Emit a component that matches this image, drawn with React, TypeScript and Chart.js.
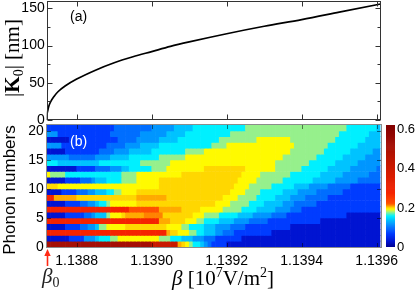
import React, { useEffect, useRef } from 'react';
import { Chart, registerables } from 'chart.js';

Chart.register(...registerables);

const SANS = '"Liberation Sans", Arial, Helvetica, sans-serif';
const SERIF = '"Liberation Serif", "Times New Roman", serif';

// ---------- panel (a): |K0| versus beta ----------
const kBeta = [1.13872, 1.138721, 1.138723, 1.138726, 1.13873, 1.13874, 1.13875, 1.13877, 1.1388, 1.13885, 1.1389, 1.13895, 1.139, 1.13905, 1.1391, 1.1392, 1.1393, 1.1394, 1.1395, 1.1396, 1.13961];
const kValues = [0, 8, 13, 19, 24, 32, 38, 46, 55, 67, 77, 85, 92, 99, 105, 116, 126, 135, 145, 155, 156];
const kTickValues = [0, 25, 50, 75, 100, 125, 150];

// ---------- shared beta axis ----------
const betaStart = 1.13872;
const betaEnd = 1.13961;
const betaStep = 0.00001;
const columnCount = 89;
const xTickValues = [1.1388, 1.139, 1.1392, 1.1394, 1.1396];

// ---------- panel (b): phonon-number distribution ----------
const phononTickValues = [0, 5, 10, 15, 20];
const levelCodes = ['d', 'b', 'm', 'l', 's', 'c', 'g', 'y', 'o', 'a', 'A', 'r', 'R', 'Q', 'K'];
const levelValues = [0.03, 0.07, 0.1, 0.12, 0.14, 0.16, 0.18, 0.195, 0.203, 0.21, 0.215, 0.225, 0.28, 0.42, 0.52];
// one string per phonon number (0 at bottom); each token = level code + end column
const phononRows = [
  'K28 Q35 a36 o37 y38 g39 c41 s42 l43 m44 b48 d89',
  'd6 b10 l13 s14 c17 g19 y30 g33 c36 s39 l42 m45 b52 d89',
  'R32 a33 o35 y38 g40 c42 s45 l47 m50 b60 d89',
  'd5 b9 m11 l13 s14 g16 y21 o32 y36 g38 c42 s45 l49 m53 b65 d89',
  'R30 a33 o37 y40 g42 c46 s50 l54 m59 b73 d89',
  'd5 b10 m12 l13 s16 g17 y20 o21 a26 A31 o39 y42 g46 c51 s55 l60 m64 b80 d89',
  'R22 r30 a36 o41 y47 g52 c56 s61 l65 m68 b89',
  'd5 b9 m11 l13 s14 c16 g17 y24 o45 y49 g54 c58 s63 l66 m72 b89',
  'R2 a8 o24 a32 o47 y51 g56 c61 s65 l69 m75 b89',
  'd4 b8 m11 l13 s16 c18 g20 y24 o49 y53 g57 c63 s67 l72 m79 b89',
  'o3 y30 o50 y54 g60 c66 s70 l75 m81 b89',
  'd5 b9 m12 l13 s16 c20 g24 y30 o51 y56 g63 c71 s77 l83 m89',
  'y1 g5 c20 g24 y36 o52 y57 g65 c73 s79 l86 m89',
  'd8 b13 m17 l20 s22 c28 g32 y42 o53 y61 g68 c75 s81 l88 m89',
  'c3 s14 c25 g33 y61 g70 c77 s83 l89',
  'l6 m13 l17 s22 c30 g37 y63 g72 c79 s85 l89',
  'd5 b14 m18 l22 s28 c37 g42 y65 g74 c81 s87 l89',
  'l4 b16 m21 l25 s30 c44 g48 y66 g75 c83 s89',
  'd6 b19 m24 l30 s35 c46 g56 y65 g77 c85 s89',
  'l3 b17 m25 l32 s37 c49 g78 c86 s89',
  'b18 m28 l34 s39 c53 g80 c88 s89',
];

// ---------- colour bar ----------
const colorbarTicks = [0, 0.2, 0.4, 0.6];
const colorbarMax = 0.625;
const cmapValues = [0, 0.03, 0.07, 0.1, 0.12, 0.14, 0.16, 0.18, 0.195, 0.203, 0.21, 0.215, 0.225, 0.28, 0.42, 0.52, 0.625];
const cmapColors = [
  [0, 0, 140], [0, 20, 210], [0, 60, 255], [0, 110, 255], [0, 150, 255], [0, 195, 255], [0, 240, 255],
  [150, 240, 140], [255, 250, 0], [255, 215, 0], [255, 170, 0], [255, 130, 0], [255, 80, 0],
  [245, 35, 0], [200, 25, 0], [165, 15, 5], [130, 0, 0],
];

function colorFor(v: number): string {
  for (let i = 0; i < cmapValues.length - 1; i++) {
    if (v <= cmapValues[i + 1] || i === cmapValues.length - 2) {
      const t = Math.max(0, Math.min(1, (v - cmapValues[i]) / (cmapValues[i + 1] - cmapValues[i])));
      const a = cmapColors[i], b = cmapColors[i + 1];
      const c = a.map((ai, k) => Math.round(ai + (b[k] - ai) * t));
      return `rgb(${c[0]},${c[1]},${c[2]})`;
    }
  }
  return 'rgb(0,0,0)';
}

function expandRow(code: string): number[] {
  const out: number[] = [];
  for (const tok of code.split(' ')) {
    const val = levelValues[levelCodes.indexOf(tok[0])];
    const end = parseInt(tok.slice(1), 10);
    while (out.length < end) out.push(val);
  }
  return out.slice(0, columnCount);
}

type Run = { t: string; font: string; dy?: number };
function drawRuns(ctx: CanvasRenderingContext2D, runs: Run[], x: number, y: number, align: 'left' | 'center') {
  let total = 0;
  for (const r of runs) { ctx.font = r.font; total += ctx.measureText(r.t).width; }
  let cx = align === 'center' ? x - total / 2 : x;
  ctx.textAlign = 'left';
  ctx.textBaseline = 'alphabetic';
  for (const r of runs) {
    ctx.font = r.font;
    ctx.fillText(r.t, cx, y + (r.dy || 0));
    cx += ctx.measureText(r.t).width;
  }
}

const topDecor = {
  id: 'topDecor',
  afterDraw(chart: any) {
    const { ctx, chartArea: a, scales } = chart;
    const xs = scales.x, ys = scales.y;
    const L = Math.round(a.left) + 0.5, R = Math.round(a.right) - 0.5;
    const T = Math.round(a.top) + 0.5, B = Math.round(a.bottom) - 0.5;
    ctx.save();
    ctx.strokeStyle = '#333';
    ctx.lineWidth = 1;
    ctx.strokeRect(L, T, R - L, B - T);
    ctx.beginPath();
    for (const v of kTickValues) {
      const py = Math.round(ys.getPixelForValue(v)) + 0.5;
      const len = v % 50 === 0 ? 5 : 3;
      ctx.moveTo(L, py); ctx.lineTo(L + len, py);
      ctx.moveTo(R, py); ctx.lineTo(R - len, py);
    }
    for (const v of xTickValues) {
      const px = Math.round(xs.getPixelForValue(v)) + 0.5;
      ctx.moveTo(px, T); ctx.lineTo(px, T + 5);
      ctx.moveTo(px, B); ctx.lineTo(px, B - 5);
    }
    ctx.stroke();
    ctx.fillStyle = '#000';
    ctx.font = `14px ${SANS}`;
    ctx.textAlign = 'left';
    ctx.textBaseline = 'middle';
    ctx.fillText('(a)', 70, 17.5);
    ctx.translate(0, 58);
    ctx.rotate(-Math.PI / 2);
    drawRuns(ctx, [
      { t: '|', font: `21px ${SERIF}` },
      { t: 'K', font: `bold 21px ${SERIF}` },
      { t: '0', font: `14px ${SERIF}`, dy: 4 },
      { t: '|', font: `21px ${SERIF}` },
      { t: ' [nm]', font: `21px ${SERIF}` },
    ], 0, 19, 'center');
    ctx.restore();
  },
};

const heatDecor = {
  id: 'heatDecor',
  afterDraw(chart: any) {
    const { ctx, chartArea: a, scales } = chart;
    const xs = scales.x, ys = scales.y;
    const L = Math.round(a.left), R = Math.round(a.right);
    const T = Math.round(a.top), B = Math.round(a.bottom);
    ctx.save();
    ctx.strokeStyle = 'rgba(0,0,0,0.5)';
    ctx.lineWidth = 1;
    ctx.beginPath();
    for (const v of phononTickValues) {
      const py = Math.round(ys.getPixelForValue(v)) + 0.5;
      ctx.moveTo(L, py); ctx.lineTo(L + 4, py);
      ctx.moveTo(R, py); ctx.lineTo(R - 4, py);
    }
    for (const v of xTickValues) {
      const px = Math.round(xs.getPixelForValue(v)) + 0.5;
      ctx.moveTo(px, T); ctx.lineTo(px, T + 4);
      ctx.moveTo(px, B); ctx.lineTo(px, B - 4);
    }
    ctx.stroke();
    ctx.strokeStyle = '#8c8c8c';
    ctx.strokeRect(L - 0.5, T - 0.5, R - L + 1, B - T + 1);
    // (b)
    ctx.fillStyle = '#fff';
    ctx.font = `14px ${SANS}`;
    ctx.textAlign = 'left';
    ctx.textBaseline = 'middle';
    ctx.fillText('(b)', 70, 22.5);
    // x title
    ctx.fillStyle = '#000';
    drawRuns(ctx, [
      { t: '\u03b2', font: `italic 21px ${SERIF}` },
      { t: ' [10', font: `21px ${SERIF}` },
      { t: '7', font: `14px ${SERIF}`, dy: -8 },
      { t: 'V/m', font: `21px ${SERIF}` },
      { t: '2', font: `14px ${SERIF}`, dy: -8 },
      { t: ']', font: `21px ${SERIF}` },
    ], 223, 165, 'center');
    // y title
    ctx.save();
    ctx.translate(10.5, 70);
    ctx.rotate(-Math.PI / 2);
    ctx.font = `17px ${SANS}`;
    ctx.textAlign = 'center';
    ctx.textBaseline = 'middle';
    ctx.fillText('Phonon numbers', 0, 0);
    ctx.restore();
    // beta_0 marker
    const ax = Math.round(xs.getPixelForValue(betaStart)) + 0.5;
    ctx.fillStyle = '#222';
    drawRuns(ctx, [
      { t: '\u03b2', font: `italic 21px ${SERIF}` },
      { t: '0', font: `14px ${SERIF}`, dy: 4 },
    ], ax - 5.5, 163, 'left');
    ctx.strokeStyle = '#ff2a14';
    ctx.fillStyle = '#ff2a14';
    ctx.lineWidth = 1.6;
    ctx.beginPath();
    ctx.moveTo(ax, B + 7); ctx.lineTo(ax, B + 19);
    ctx.stroke();
    ctx.beginPath();
    ctx.moveTo(ax, B + 2); ctx.lineTo(ax - 3.2, B + 9); ctx.lineTo(ax + 3.2, B + 9);
    ctx.closePath();
    ctx.fill();
    ctx.restore();
  },
};

export default function App() {
  const topRef = useRef<HTMLCanvasElement>(null);
  const heatRef = useRef<HTMLCanvasElement>(null);
  const barRef = useRef<HTMLCanvasElement>(null);

  useEffect(() => {
    const charts: Chart[] = [];
    const tickFont = { family: SANS, size: 14 };

    charts.push(new Chart(topRef.current as HTMLCanvasElement, {
      type: 'line',
      data: {
        datasets: [{
          data: kBeta.map((b, i) => ({ x: b, y: kValues[i] })),
          borderColor: '#000',
          borderWidth: 1.7,
          pointRadius: 0,
          cubicInterpolationMode: 'monotone',
          fill: false,
        }],
      },
      options: {
        animation: false,
        responsive: false,
        devicePixelRatio: 1,
        layout: { padding: { left: 0, right: 415 - 380.5, top: 1, bottom: 4 } },
        plugins: { legend: { display: false }, tooltip: { enabled: false } },
        scales: {
          x: { type: 'linear', display: false, min: betaStart, max: betaEnd },
          y: {
            type: 'linear', min: 0, max: 160,
            grid: { display: false, drawTicks: false }, border: { display: false },
            afterBuildTicks: (s: any) => { s.ticks = kTickValues.map((v) => ({ value: v })); },
            ticks: {
              autoSkip: false, padding: 2, color: '#000', font: tickFont,
              callback: (v: any) => (Number(v) % 50 === 0 ? String(v) : ''),
            },
            afterFit: (s: any) => { s.width = 46.7; s.paddingTop = 0; s.paddingBottom = 0; },
          },
        },
      } as any,
      plugins: [topDecor],
    }));

    const cells: { x: number; y: [number, number] }[] = [];
    const cellColors: string[] = [];
    phononRows.forEach((code, n) => {
      expandRow(code).forEach((v, j) => {
        cells.push({ x: betaStart + (j + 0.5) * betaStep, y: [n, n + 1] });
        cellColors.push(colorFor(v));
      });
    });

    charts.push(new Chart(heatRef.current as HTMLCanvasElement, {
      type: 'bar',
      data: {
        datasets: [{
          data: cells as any,
          backgroundColor: cellColors,
          borderWidth: 0,
          barPercentage: 1,
          categoryPercentage: 1,
        }],
      },
      options: {
        animation: false,
        responsive: false,
        devicePixelRatio: 1,
        layout: { padding: { left: 0, right: 415 - 380.5, top: 5, bottom: 0 } },
        plugins: { legend: { display: false }, tooltip: { enabled: false } },
        scales: {
          x: {
            type: 'linear', min: betaStart, max: betaEnd, offset: false,
            grid: { display: false, drawTicks: false }, border: { display: false },
            afterBuildTicks: (s: any) => { s.ticks = xTickValues.map((v) => ({ value: v })); },
            ticks: {
              autoSkip: false, maxRotation: 0, padding: 6, color: '#000', font: tickFont,
              callback: (v: any) => Number(v).toFixed(4),
            },
            afterFit: (s: any) => { s.height = 44; s.paddingLeft = 0; s.paddingRight = 0; },
          },
          y: {
            type: 'linear', min: 0, max: 21,
            grid: { display: false, drawTicks: false }, border: { display: false },
            afterBuildTicks: (s: any) => { s.ticks = phononTickValues.map((v) => ({ value: v })); },
            ticks: { autoSkip: false, padding: 3, color: '#000', font: tickFont },
            afterFit: (s: any) => { s.width = 46.7; s.paddingTop = 0; s.paddingBottom = 0; },
          },
        },
      } as any,
      plugins: [heatDecor],
    }));

    const cbSegments: number[] = [];
    for (let v = 0; v < colorbarMax - 1e-9; v += 0.005) cbSegments.push(v);
    charts.push(new Chart(barRef.current as HTMLCanvasElement, {
      type: 'bar',
      data: {
        labels: ['cb'],
        datasets: [{
          data: cbSegments.map((v) => ({ x: 'cb', y: [v, Math.min(colorbarMax, v + 0.005)] })) as any,
          backgroundColor: cbSegments.map((v) => colorFor(v + 0.0025)),
          borderWidth: 0,
          barPercentage: 1,
          categoryPercentage: 1,
        }],
      },
      options: {
        animation: false,
        responsive: false,
        devicePixelRatio: 1,
        layout: { padding: { left: 6, right: 0, top: 5, bottom: 44 } },
        plugins: { legend: { display: false }, tooltip: { enabled: false } },
        scales: {
          x: { display: false },
          y: {
            position: 'right', min: 0, max: colorbarMax,
            grid: { display: false, drawTicks: false }, border: { display: false },
            afterBuildTicks: (s: any) => { s.ticks = colorbarTicks.map((v) => ({ value: v })); },
            ticks: {
              autoSkip: false, padding: 2, color: '#000', font: { family: SANS, size: 13 },
              callback: (v: any) => (Number(v) === 0 ? '0' : Number(v).toFixed(1)),
            },
            afterFit: (s: any) => { s.width = 20; s.paddingTop = 0; s.paddingBottom = 0; },
          },
        },
      } as any,
    }));

    return () => charts.forEach((c) => c.destroy());
  }, []);

  return (
    <div style={{ position: 'absolute', left: 0, top: 0, width: 415, height: 291, background: '#fff', overflow: 'hidden' }}>
      <canvas ref={heatRef} width={415} height={171} style={{ position: 'absolute', left: 0, top: 120 }} />
      <canvas ref={barRef} width={35} height={171} style={{ position: 'absolute', left: 380, top: 120 }} />
      <canvas ref={topRef} width={415} height={124} style={{ position: 'absolute', left: 0, top: 0 }} />
    </div>
  );
}
